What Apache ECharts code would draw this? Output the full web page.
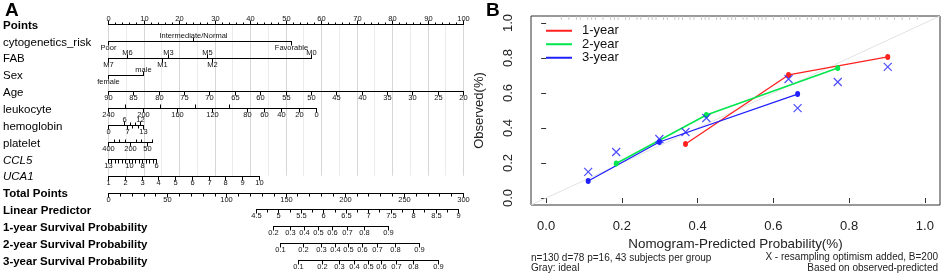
<!DOCTYPE html>
<html>
<head>
<meta charset="utf-8">
<script src="https://cdn.jsdelivr.net/npm/echarts@6/dist/echarts.min.js"></script>
<style>
  html, body { margin: 0; padding: 0; background: #fff; }
  #main { width: 941px; height: 274px; }
</style>
</head>
<body>
<div id="main"></div>
<script>
// ---- panel A: nomogram ----
const rowNames = ['Points', 'cytogenetics_risk', 'FAB', 'Sex', 'Age', 'leukocyte', 'hemoglobin',
  'platelet', 'CCL5', 'UCA1', 'Total Points', 'Linear Predictor',
  '1-year Survival Probability', '2-year Survival Probability', '3-year Survival Probability'];
const boldRows = [0, 10, 11, 12, 13, 14];
const italicRows = [8, 9];

const cytoLabels = ['Poor', 'Intermediate/Normal', 'Favorable'];
const cytoPoints = [0, 24, 51.5];
const cytoSide = ['down', 'up', 'down'];

const fabLabels = ['M7', 'M6', 'M1', 'M3', 'M5', 'M2', 'M0'];
const fabPoints = [0, 5.4, 15.2, 16.9, 27.9, 29.3, 57.2];
const fabSide = ['down', 'up', 'down', 'up', 'up', 'down', 'up'];

const sexLabels = ['female', 'male'];
const sexPoints = [0, 9.9];
const sexSide = ['down', 'up'];

const ageTicks = [90, 85, 80, 75, 70, 65, 60, 55, 50, 45, 40, 35, 30, 25, 20];
const ageMaxPoints = 100;

const leukocyteTicks = [240, 220, 200, 180, 160, 140, 120, 100, 80, 60, 40, 20, 0];
const leukocyteLabels = [240, 200, 160, 120, 80, 60, 40, 20, 0];
const leukocyteMaxPoints = 58.6;

const hemoglobinTicks = [0, 6, 7, 8, 9, 10, 11, 12, 13];
const hemoglobinLabelsUp = [6, 12];
const hemoglobinLabelsDown = [0, 7, 13];
const hemoglobinMaxPoints = 9.9;

const plateletTicks = [400, 350, 300, 250, 200, 150, 100, 50, 0];
const plateletLabels = [400, 200, 50];
const plateletMaxPoints = 12.4;

const ccl5Ticks = [13, 12.5, 12, 11.5, 11, 10.5, 10, 9.5, 9, 8.5, 8, 7.5, 7, 6.5, 6];
const ccl5Labels = [13, 10, 8, 6];
const ccl5MaxPoints = 13.5;

const uca1Ticks = [1, 2, 3, 4, 5, 6, 7, 8, 9, 10];
const uca1MaxPoints = 42.5;

const totalMax = 300;
const lpLabels = [4.5, 5, 5.5, 6, 6.5, 7, 7.5, 8, 8.5, 9];
const lpTotalAt = [125.1, 295.8]; // total points at LP 4.5 and 9

const surv1Labels = ['0.2', '0.3', '0.4', '0.5', '0.6', '0.7', '0.8', '0.9'];
const surv1Total = [139.4, 153.8, 165.6, 177.5, 189.3, 202.0, 216.3, 236.6];
const surv2Labels = ['0.1', '0.2', '0.3', '0.4', '0.5', '0.6', '0.7', '0.8', '0.9'];
const surv2Total = [145.4, 164.8, 180.0, 191.8, 202.8, 214.6, 227.3, 242.5, 262.8];
const surv3Labels = ['0.1', '0.2', '0.3', '0.4', '0.5', '0.6', '0.7', '0.8', '0.9'];
const surv3Total = [160.6, 180.8, 195.2, 207.9, 219.7, 230.7, 243.4, 257.7, 278.9];

// ---- panel B: calibration ----
const year1 = [[0.368, 0.309], [0.640, 0.703], [0.902, 0.806]];
const year2 = [[0.185, 0.197], [0.423, 0.474], [0.770, 0.743]];
const year3 = [[0.111, 0.097], [0.299, 0.320], [0.664, 0.594]];
const corrected = [[0.111, 0.149], [0.185, 0.263], [0.299, 0.337], [0.368, 0.377], [0.423, 0.457],
  [0.640, 0.680], [0.664, 0.514], [0.770, 0.663], [0.902, 0.749]];
const idealLine = [[-0.04, -0.04], [1.04, 1.04]];
const rugValues = [0.04, 0.06, 0.08, 0.09, 0.11, 0.12, 0.13, 0.15, 0.17, 0.18, 0.19, 0.21, 0.22, 0.24,
  0.25, 0.27, 0.28, 0.29, 0.31, 0.32, 0.34, 0.35, 0.36, 0.38, 0.39, 0.41, 0.42, 0.43, 0.45, 0.46,
  0.48, 0.49, 0.5, 0.52, 0.53, 0.55, 0.56, 0.57, 0.58, 0.6, 0.62, 0.63, 0.64, 0.66, 0.67, 0.69,
  0.7, 0.72, 0.73, 0.75, 0.76, 0.78, 0.8, 0.81, 0.83, 0.85, 0.87, 0.88, 0.9, 0.92, 0.94, 0.96, 0.98];
const xTicks = [0, 0.2, 0.4, 0.6, 0.8, 1.0];
const yTicks = [0, 0.2, 0.4, 0.6, 0.8, 1.0];

const FONT = '"Liberation Sans", Arial, sans-serif';

// build nomogram ticks and segments
const lin = (v, v0, v1, p0, p1) => p0 + (v - v0) * (p1 - p0) / (v1 - v0);
const nomoTicks = [];
const segs = [];
function addScale(row, items) {
  const ps = items.map(i => i.pos);
  segs.push({ row, from: Math.min(...ps), to: Math.max(...ps) });
  items.forEach(i => nomoTicks.push({ row, len: 4, ...i }));
}

const pts = [];
for (let p = 0; p <= 100; p += 2) {
  pts.push({ pos: p, label: p % 10 === 0 ? String(p) : '', side: 'up', len: p % 10 === 0 ? 4 : 2 });
}
addScale(0, pts);
addScale(1, cytoPoints.map((p, i) => ({ pos: p, label: cytoLabels[i], side: cytoSide[i] })));
addScale(2, fabPoints.map((p, i) => ({ pos: p, label: fabLabels[i], side: fabSide[i] })));
addScale(3, sexPoints.map((p, i) => ({ pos: p, label: sexLabels[i], side: sexSide[i] })));
addScale(4, ageTicks.map(a => ({ pos: lin(a, 90, 20, 0, ageMaxPoints), label: String(a), side: 'down' })));
addScale(5, leukocyteTicks.map(v => {
  const lab = leukocyteLabels.includes(v);
  return { pos: lin(v, 240, 0, 0, leukocyteMaxPoints), label: lab ? String(v) : '', side: lab ? 'down' : 'up' };
}));
addScale(6, hemoglobinTicks.map(v => {
  const up = hemoglobinLabelsUp.includes(v), dn = hemoglobinLabelsDown.includes(v);
  return { pos: lin(v, 0, 13, 0, hemoglobinMaxPoints), label: up || dn ? String(v) : '',
    side: up ? 'up' : (dn ? 'down' : (v % 2 === 0 ? 'up' : 'down')), len: up || dn ? 4 : 3 };
}));
addScale(7, plateletTicks.map(v => {
  const lab = plateletLabels.includes(v);
  return { pos: lin(v, 400, 0, 0, plateletMaxPoints), label: lab ? String(v) : '', side: lab ? 'down' : 'up', len: lab ? 4 : 3 };
}));
addScale(8, ccl5Ticks.map(v => ({ pos: lin(v, 13, 6, 0, ccl5MaxPoints),
  label: ccl5Labels.includes(v) ? String(v) : '', side: 'down', len: 4 })));
addScale(9, uca1Ticks.map(v => ({ pos: lin(v, 1, 10, 0, uca1MaxPoints), label: String(v), side: 'down' })));
const tot = [];
for (let t = 0; t <= totalMax; t += 10) {
  tot.push({ pos: t / 3, label: t % 50 === 0 ? String(t) : '', side: 'down', len: t % 50 === 0 ? 4 : 3 });
}
addScale(10, tot);
const lp = [];
for (let v = 4.5; v <= 9.001; v += 0.25) {
  const lab = lpLabels.some(l => Math.abs(l - v) < 1e-6);
  lp.push({ pos: lin(v, 4.5, 9, lpTotalAt[0], lpTotalAt[1]) / 3, label: lab ? String(+v.toFixed(1)) : '',
    side: 'down', len: lab ? 4 : 3 });
}
addScale(11, lp);
addScale(12, surv1Total.map((t, i) => ({ pos: t / 3, label: surv1Labels[i], side: 'down' })));
addScale(13, surv2Total.map((t, i) => ({ pos: t / 3, label: surv2Labels[i], side: 'down' })));
addScale(14, surv3Total.map((t, i) => ({ pos: t / 3, label: surv3Labels[i], side: 'down' })));

const gridPos = [];
for (let p = 0; p <= 100; p += 5) gridPos.push(p);

const crisp = v => Math.round(v) + 0.5;

const chart = echarts.init(document.getElementById('main'));

const xMark = 'path://M0,0L10,10M10,0L0,10';

chart.setOption({
  animation: false,
  backgroundColor: '#fff',
  textStyle: { fontFamily: FONT },
  grid: [
    { left: 108, width: 355, top: 24, height: 236 },
    { left: 531, top: 16, width: 409, height: 189, show: true, borderColor: '#333', borderWidth: 1, backgroundColor: 'transparent' }
  ],
  xAxis: [
    { gridIndex: 0, type: 'value', min: 0, max: 100, show: false },
    {
      gridIndex: 1, type: 'value', min: -0.04, max: 1.04,
      axisLine: { show: false },
      axisTick: { show: true, length: 5, lineStyle: { color: '#333' }, customValues: xTicks },
      axisLabel: { customValues: xTicks, formatter: v => v.toFixed(1), fontSize: 13, color: '#222', margin: 15, fontFamily: FONT },
      splitLine: { show: false },
      name: 'Nomogram-Predicted Probability(%)', nameLocation: 'middle', nameGap: 29,
      nameTextStyle: { fontSize: 13.4, color: '#222', fontFamily: FONT }
    }
  ],
  yAxis: [
    {
      gridIndex: 0, type: 'category', data: rowNames, inverse: true, boundaryGap: false,
      axisLine: { show: false }, axisTick: { show: false }, splitLine: { show: false },
      axisLabel: {
        interval: 0, align: 'left', margin: 105, padding: [3, 0, 0, 0],
        formatter: (v, i) => boldRows.includes(i) ? '{b|' + v + '}' : (italicRows.includes(i) ? '{i|' + v + '}' : '{n|' + v + '}'),
        rich: {
          b: { fontSize: 11.5, fontWeight: 'bold', color: '#000', fontFamily: FONT },
          i: { fontSize: 11.5, fontStyle: 'italic', color: '#000', fontFamily: FONT },
          n: { fontSize: 11.5, color: '#000', fontFamily: FONT }
        }
      }
    },
    {
      gridIndex: 1, type: 'value', min: -0.04, max: 1.04,
      axisLine: { show: false },
      axisTick: { show: true, length: 5, lineStyle: { color: '#333' }, customValues: yTicks },
      axisLabel: { customValues: yTicks, formatter: v => v.toFixed(1), rotate: 90, fontSize: 13, color: '#222', margin: 16, fontFamily: FONT },
      splitLine: { show: false },
      name: 'Observed(%)', nameLocation: 'middle', nameGap: 45,
      nameTextStyle: { fontSize: 13, color: '#222', fontFamily: FONT }
    }
  ],
  legend: {
    orient: 'vertical', left: 541, top: 19, itemGap: 0, itemWidth: 26, itemHeight: 2, icon: 'rect',
    data: ['1-year', '2-year', '3-year'],
    textStyle: { fontSize: 13, color: '#111', lineHeight: 13.5, padding: [0, 0, 0, 5], fontFamily: FONT }
  },
  series: [
    {
      type: 'custom', xAxisIndex: 0, yAxisIndex: 0, silent: true, z: 1,
      data: gridPos.map(p => [p, 0]),
      renderItem: (params, api) => {
        const p = gridPos[params.dataIndex];
        const a = api.coord([p, 0]), b = api.coord([p, 9]);
        return { type: 'line', shape: { x1: crisp(a[0]), y1: a[1], x2: crisp(a[0]), y2: b[1] },
          style: { stroke: p % 10 === 0 ? '#d6d6d6' : '#ebebeb', lineWidth: 1 } };
      }
    },
    {
      type: 'custom', xAxisIndex: 0, yAxisIndex: 0, silent: true, z: 2,
      data: segs.map(s => [s.from, s.row]),
      renderItem: (params, api) => {
        const s = segs[params.dataIndex];
        const a = api.coord([s.from, s.row]), b = api.coord([s.to, s.row]);
        return { type: 'line', shape: { x1: crisp(a[0]) - 0.5, y1: crisp(a[1]), x2: crisp(b[0]) + 0.5, y2: crisp(b[1]) },
          style: { stroke: '#000', lineWidth: 1 } };
      }
    },
    {
      type: 'custom', xAxisIndex: 0, yAxisIndex: 0, silent: true, z: 3,
      data: nomoTicks.map(t => [t.pos, t.row]),
      renderItem: (params, api) => {
        const t = nomoTicks[params.dataIndex];
        const p = api.coord([t.pos, t.row]);
        const x = crisp(p[0]), y = crisp(p[1]);
        const dir = t.side === 'up' ? -1 : 1;
        const children = [{ type: 'line', shape: { x1: x, y1: y, x2: x, y2: y + dir * t.len },
          style: { stroke: '#000', lineWidth: 1 } }];
        if (t.label !== '') {
          children.push({ type: 'text', x: x, y: y + dir * 2,
            style: { text: t.label, fill: '#111', fontSize: 7.5, fontFamily: FONT, align: 'center',
              verticalAlign: dir < 0 ? 'bottom' : 'top' } });
        }
        return { type: 'group', children };
      }
    },
    {
      name: 'ideal', type: 'line', xAxisIndex: 1, yAxisIndex: 1, data: idealLine, symbol: 'none', silent: true,
      lineStyle: { color: '#e2e2e2', width: 1 }, z: 1
    },
    {
      name: 'rug', type: 'scatter', xAxisIndex: 1, yAxisIndex: 1, data: rugValues.map(v => [v, 1.04]),
      symbol: 'rect', symbolSize: [1, 4], symbolOffset: [0, 2], clip: false, silent: true,
      itemStyle: { color: '#bdbdbd' }, z: 1
    },
    {
      name: '1-year', type: 'line', xAxisIndex: 1, yAxisIndex: 1, data: year1, symbol: 'circle', symbolSize: [5, 6],
      itemStyle: { color: '#ff2020' }, lineStyle: { color: '#ff2020', width: 1.3 }, z: 3
    },
    {
      name: '2-year', type: 'line', xAxisIndex: 1, yAxisIndex: 1, data: year2, symbol: 'circle', symbolSize: [5, 6],
      itemStyle: { color: '#00e64d' }, lineStyle: { color: '#00e64d', width: 1.6 }, z: 3
    },
    {
      name: '3-year', type: 'line', xAxisIndex: 1, yAxisIndex: 1, data: year3, symbol: 'circle', symbolSize: [5, 6],
      itemStyle: { color: '#2020ff' }, lineStyle: { color: '#2020ff', width: 1.3 }, z: 3
    },
    {
      name: 'corrected', type: 'scatter', xAxisIndex: 1, yAxisIndex: 1, data: corrected, symbol: xMark, symbolSize: 8,
      itemStyle: { color: 'none', borderColor: '#2020ff', borderWidth: 1.2 }, z: 4, silent: true
    }
  ],
  graphic: [
    { type: 'text', left: 5, top: 1, style: { text: 'A', font: 'bold 19px ' + FONT, fill: '#000' } },
    { type: 'text', left: 486, top: 1, style: { text: 'B', font: 'bold 19px ' + FONT, fill: '#000' } },
    { type: 'text', left: 531, top: 253, style: { text: 'n=130 d=78 p=16, 43 subjects per group', font: '10px ' + FONT, fill: '#222' } },
    { type: 'text', left: 531, top: 263, style: { text: 'Gray: ideal', font: '10px ' + FONT, fill: '#222' } },
    { type: 'text', right: 3, top: 252, style: { text: 'X - resampling optimism added, B=200', font: '10px ' + FONT, fill: '#222' } },
    { type: 'text', right: 3, top: 263, style: { text: 'Based on observed-predicted', font: '10px ' + FONT, fill: '#222' } }
  ]
});
</script>
</body>
</html>
